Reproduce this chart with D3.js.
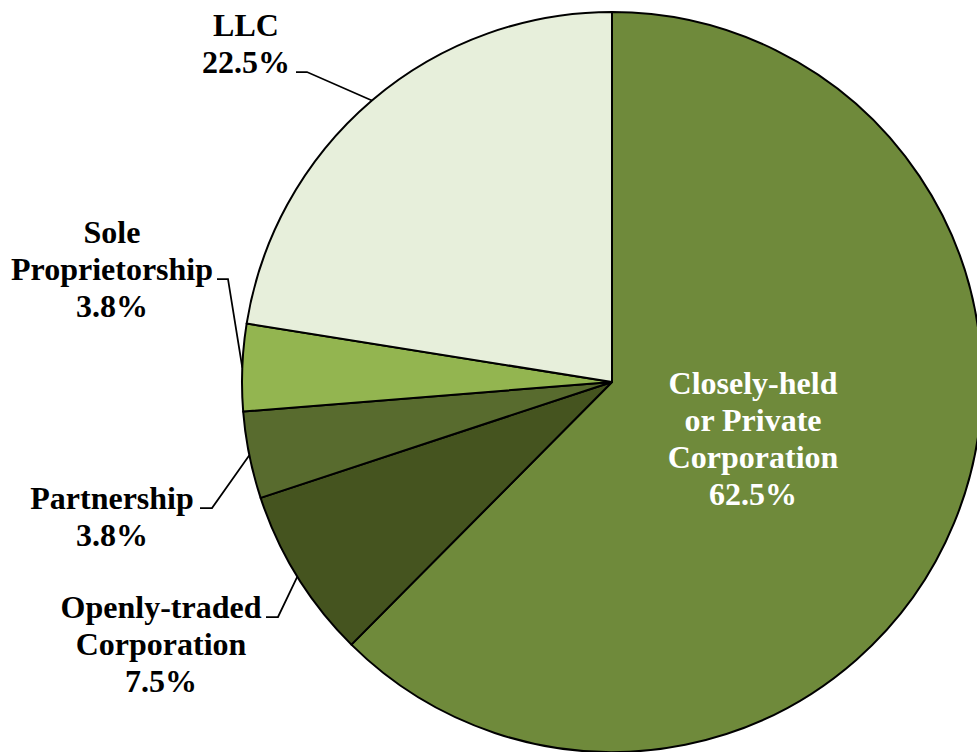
<!DOCTYPE html>
<html lang="en">
<head>
<meta charset="utf-8">
<title>Business type pie</title>
<script src="https://cdn.jsdelivr.net/npm/d3@7"></script>
<style>
  body { margin: 0; background: #fff; }
  text { font-family: "Liberation Serif", "Times New Roman", serif; font-weight: bold; font-size: 32px; }
</style>
</head>
<body>
<svg width="977" height="752"></svg>
<script>
const categories = ['Closely-held or Private Corporation', 'Openly-traded Corporation', 'Partnership', 'Sole Proprietorship', 'LLC'];
const values = [62.5, 7.5, 3.8, 3.8, 22.5];
const valueLabels = ['62.5%', '7.5%', '3.8%', '3.8%', '22.5%'];
const colors = ['#6f8a3b', '#45541f', '#586b2e', '#93b550', '#e7efdb'];

// label layout: text lines, centre x, first baseline, and leader elbow
const labelLines = [
  ['Closely-held', 'or Private', 'Corporation'],
  ['Openly-traded', 'Corporation'],
  ['Partnership'],
  ['Sole', 'Proprietorship'],
  ['LLC']
];
const labelPos = [
  { x: 753, y: 394, inside: true },
  { x: 161, y: 618, hx: [266, 278] },
  { x: 112, y: 509, hx: [200, 212] },
  { x: 112, y: 243, hx: [217, 228], hl: 1 },
  { x: 246, y: 36, hx: [296, 307], hl: 1 }
];
const lineH = 37;

const svg = d3.select('svg');
const cx = 612, cy = 382, r = 370;
const g = svg.append('g').attr('transform', `translate(${cx},${cy})`);

const pie = d3.pie().sort(null).value(d => d);
const arcs = pie(values);
const arc = d3.arc().innerRadius(0).outerRadius(r);
const edge = d3.arc().innerRadius(r).outerRadius(r);

g.selectAll('path.slice').data(arcs)
  .enter().append('path')
  .attr('class', 'slice')
  .attr('d', arc)
  .attr('fill', (d, i) => colors[i])
  .attr('stroke', '#000')
  .attr('stroke-width', 2)
  .attr('stroke-linejoin', 'round');

// leader lines
arcs.forEach((d, i) => {
  const p = labelPos[i];
  if (p.inside) return;
  const [ex, ey] = edge.centroid(d);
  const hy = p.y + (p.hl || 0) * lineH - 1;
  svg.append('polyline')
    .attr('points', `${p.hx[0]},${hy} ${p.hx[1]},${hy} ${cx + ex},${cy + ey}`)
    .attr('fill', 'none')
    .attr('stroke', '#000')
    .attr('stroke-width', 1.75);
});

// labels
arcs.forEach((d, i) => {
  const p = labelPos[i];
  const lines = labelLines[i].concat([valueLabels[i]]);
  const t = svg.append('text')
    .attr('text-anchor', 'middle')
    .attr('fill', p.inside ? '#fff' : '#000');
  lines.forEach((s, k) => {
    t.append('tspan')
      .attr('x', p.x)
      .attr('y', p.y + k * lineH)
      .text(s);
  });
});
</script>
</body>
</html>
